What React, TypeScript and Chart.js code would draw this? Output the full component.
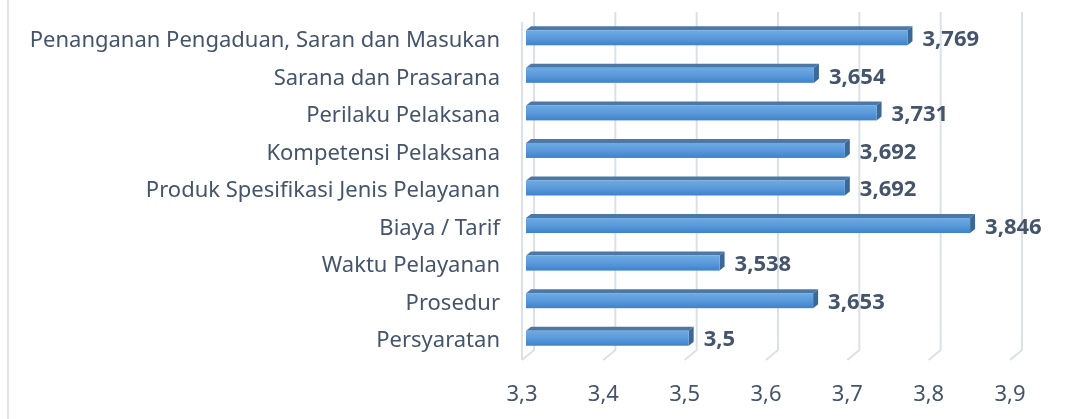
import { useEffect, useRef } from "react";
import { Chart, registerables } from "chart.js";

Chart.register(...registerables);

const categories = [
  "Penanganan Pengaduan, Saran dan Masukan",
  "Sarana dan Prasarana",
  "Perilaku Pelaksana",
  "Kompetensi Pelaksana",
  "Produk Spesifikasi Jenis Pelayanan",
  "Biaya / Tarif",
  "Waktu Pelayanan",
  "Prosedur",
  "Persyaratan",
];
const values = [3.769, 3.654, 3.731, 3.692, 3.692, 3.846, 3.538, 3.653, 3.5];
const axisMin = 3.3;
const axisMax = 3.9;
const axisStep = 0.1;

const TEXT = "#44546A";
const GRID = "#DCE0E7";
const FONT = "'Noto Sans', sans-serif";

const fmt = (v: number) => String(v).replace(".", ",");

const threeD = {
  id: "threeD",
  beforeDatasetsDraw(chart: any) {
    const { ctx, chartArea, scales } = chart;
    const { left, top, bottom } = chartArea;
    const x = scales.x;
    const DX = 12;
    const DY = 10;
    ctx.save();
    ctx.strokeStyle = GRID;
    ctx.lineWidth = 2;
    ctx.beginPath();
    ctx.moveTo(left, top);
    ctx.lineTo(left, bottom);
    ctx.stroke();
    x.ticks.forEach((t: any) => {
      const px = x.getPixelForValue(t.value);
      ctx.beginPath();
      ctx.moveTo(px + DX, top - DY);
      ctx.lineTo(px + DX, bottom - DY);
      ctx.lineTo(px, bottom);
      ctx.stroke();
    });
    ctx.restore();
  },
  afterDatasetsDraw(chart: any) {
    const { ctx } = chart;
    const meta = chart.getDatasetMeta(0);
    const ds = chart.data.datasets[0];
    ctx.save();
    meta.data.forEach((el: any, i: number) => {
      const shift = 4;
      const x0 = el.base + shift;
      const x1 = el.x + shift;
      const h = el.height;
      const yc = el.y - 3;
      const y0 = yc - h / 2;
      const y1 = yc + h / 2;
      const ddx = 5;
      const ddy = 4;
      // top face
      ctx.fillStyle = "#4C78A8";
      ctx.beginPath();
      ctx.moveTo(x0, y0);
      ctx.lineTo(x0 + ddx, y0 - ddy);
      ctx.lineTo(x1 + ddx, y0 - ddy);
      ctx.lineTo(x1, y0);
      ctx.closePath();
      ctx.fill();
      // side face
      ctx.fillStyle = "#3A6898";
      ctx.beginPath();
      ctx.moveTo(x1, y0);
      ctx.lineTo(x1 + ddx, y0 - ddy);
      ctx.lineTo(x1 + ddx, y1 - ddy);
      ctx.lineTo(x1, y1);
      ctx.closePath();
      ctx.fill();
      // front face
      const g = ctx.createLinearGradient(0, y0, 0, y1);
      g.addColorStop(0, "#6EAAE4");
      g.addColorStop(0.5, "#5A9ADA");
      g.addColorStop(1, "#3F82CB");
      ctx.fillStyle = g;
      ctx.fillRect(x0, y0, x1 - x0, y1 - y0);
      // value label
      ctx.fillStyle = TEXT;
      ctx.font = `bold 22px ${FONT}`;
      ctx.textAlign = "left";
      ctx.textBaseline = "middle";
      ctx.fillText(fmt(ds.data[i]), el.x + 19, el.y - 1);
    });
    ctx.restore();
  },
};

export default function App() {
  const ref = useRef<HTMLCanvasElement>(null);
  useEffect(() => {
    if (!ref.current) return;
    const chart = new Chart(ref.current, {
      type: "bar",
      data: {
        labels: categories,
        datasets: [
          {
            data: values,
            base: axisMin,
            backgroundColor: "rgba(0,0,0,0)",
            borderWidth: 0,
            barThickness: 15,
          },
        ],
      },
      options: {
        indexAxis: "y",
        responsive: false,
        animation: false,
        layout: { padding: { left: 0, right: 55, top: 22, bottom: 0 } },
        plugins: { legend: { display: false }, tooltip: { enabled: false } },
        scales: {
          x: {
            min: axisMin,
            max: axisMax,
            border: { display: false },
            grid: { display: false, drawTicks: false },
            afterFit: (s: any) => {
              s.height = 59;
              s.paddingLeft = 0;
              s.paddingRight = 0;
            },
            ticks: {
              stepSize: axisStep,
              padding: 22,
              color: TEXT,
              font: { family: FONT, size: 22 },
              callback: (v: any) => Number(v).toFixed(1).replace(".", ","),
            },
          },
          y: {
            border: { display: false },
            grid: { display: false, drawTicks: false },
            afterFit: (s: any) => {
              s.width = 522;
              s.paddingTop = 0;
              s.paddingBottom = 0;
            },
            ticks: {
              padding: 22,
              color: TEXT,
              font: { family: FONT, size: 22 },
            },
          },
        },
      },
      plugins: [threeD],
    });
    return () => chart.destroy();
  }, []);
  return (
    <div style={{ position: "fixed", left: 0, top: 0, width: 1065, height: 419, background: "#fff" }}>
      <div style={{ position: "absolute", left: 7, top: 0, width: 2, height: 419, background: "#DFE3EA" }} />
      <canvas ref={ref} width={1065} height={419} style={{ position: "absolute", left: 0, top: 0 }} />
    </div>
  );
}
